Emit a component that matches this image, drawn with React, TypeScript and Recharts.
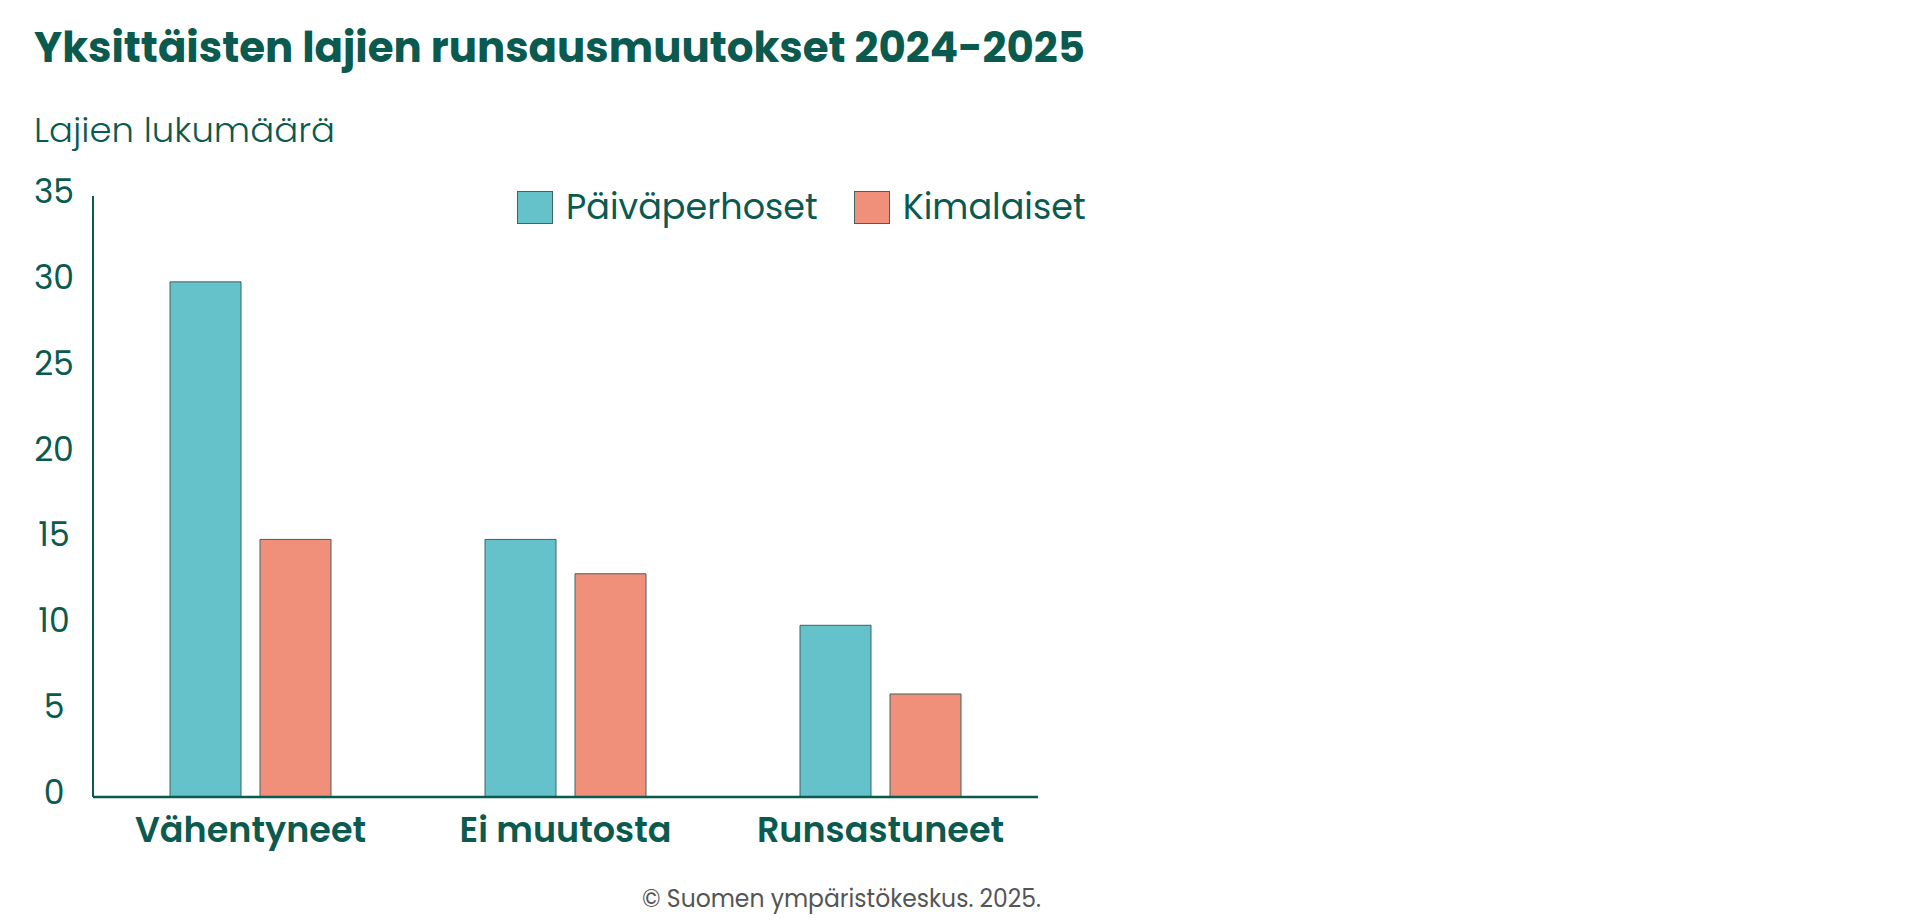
import { BarChart, Bar, XAxis, YAxis } from "recharts";

const categories = ["Vähentyneet", "Ei muutosta", "Runsastuneet"];
const butterflies = [30, 15, 10];
const bumblebees = [15, 13, 6];
const yTicks = [0, 5, 10, 15, 20, 25, 30, 35];

const data = categories.map((c, i) => ({
  name: c,
  butterflies: butterflies[i],
  bumblebees: bumblebees[i],
}));

const GREEN = "#0b5a4f";
const FONT = "Poppins, Inter, 'Open Sans', sans-serif";

const seriesDefs = [
  { key: "butterflies", label: "Päiväperhoset", color: "#65c1ca" },
  { key: "bumblebees", label: "Kimalaiset", color: "#f08f7a" },
];

function YTick(props: any) {
  const { x, y, payload } = props;
  return (
    <text x={x} y={y} dy={7} textAnchor="middle" fill={GREEN} fontSize={33} fontFamily={FONT}>
      {payload.value}
    </text>
  );
}

function XTick(props: any) {
  const { x, y, payload } = props;
  return (
    <text x={x} y={y} dy={43} textAnchor="middle" fill={GREEN} fontSize={35} fontWeight={600} fontFamily={FONT}>
      {payload.value}
    </text>
  );
}

function ChartLegend() {
  return (
    <div style={{ position: "absolute", top: 187, left: 517, display: "flex", alignItems: "center", fontFamily: FONT }}>
      {seriesDefs.map((s, i) => (
        <div key={s.key} style={{ display: "flex", alignItems: "center", marginLeft: i === 0 ? 0 : 36 }}>
          <div
            style={{
              width: 36,
              height: 33,
              background: s.color,
              border: "1.5px solid #3f6462",
              boxSizing: "border-box",
            }}
          />
          <span style={{ marginLeft: 13, fontSize: 35, color: GREEN, lineHeight: "40px" }}>{s.label}</span>
        </div>
      ))}
    </div>
  );
}

export default function App() {
  return (
    <div
      style={{
        position: "fixed",
        top: 0,
        left: 0,
        width: 1920,
        height: 920,
        background: "#fff",
        fontFamily: FONT,
      }}
    >
      <svg width={1920} height={920} style={{ position: "absolute", top: 0, left: 0 }}>
        <text x={34} y={62} fill={GREEN} fontSize={42} fontWeight={700} fontFamily={FONT} textLength={1051} lengthAdjust="spacingAndGlyphs">
          Yksittäisten lajien runsausmuutokset 2024-2025
        </text>
        <text x={34} y={142} fill={GREEN} fontSize={34} fontWeight={300} fontFamily={FONT} textLength={301} lengthAdjust="spacingAndGlyphs">
          Lajien lukumäärä
        </text>
        <text x={642} y={907} fill="#555" fontSize={25} fontFamily={FONT} textLength={399} lengthAdjust="spacingAndGlyphs">
          © Suomen ympäristökeskus. 2025.
        </text>
      </svg>
      <div style={{ position: "absolute", top: 0, left: 0 }}>
        <BarChart
          width={1920}
          height={920}
          data={data}
          margin={{ top: 196, right: 882, bottom: 63, left: 33 }}
          barCategoryGap={77}
          barGap={19}
        >
          <XAxis
            dataKey="name"
            axisLine={{ stroke: GREEN, strokeWidth: 2.5 }}
            tickLine={false}
            tickSize={0}
            tick={<XTick />}
            height={60}
          />
          <YAxis
            domain={[0, 35]}
            ticks={yTicks}
            interval={0}
            axisLine={{ stroke: GREEN, strokeWidth: 2 }}
            tickLine={false}
            tickSize={0}
            tickMargin={39}
            tick={<YTick />}
            width={60}
          />
          {seriesDefs.map((s) => (
            <Bar
              key={s.key}
              dataKey={s.key}
              name={s.label}
              fill={s.color}
              stroke="#3f6462"
              strokeWidth={1}
              barSize={71}
              isAnimationActive={false}
            />
          ))}
        </BarChart>
      </div>
      <ChartLegend />
    </div>
  );
}
